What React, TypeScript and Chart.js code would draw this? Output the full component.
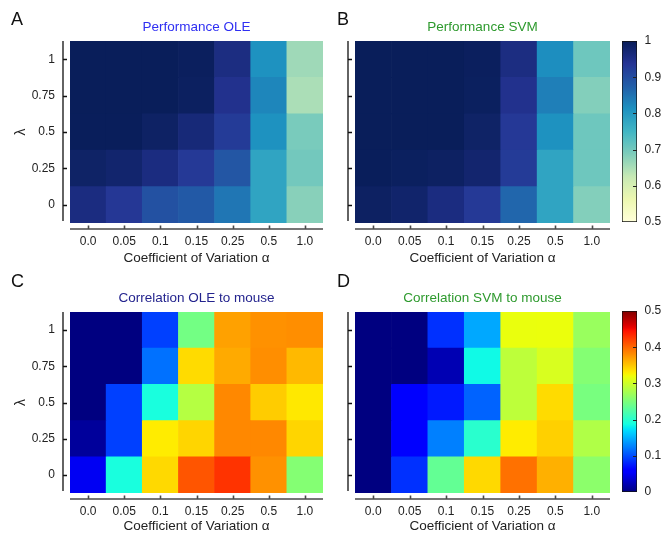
import React, { useEffect, useRef } from 'react';
import { Chart, registerables } from 'chart.js';
Chart.register(...registerables);

// ---------- data ----------
const alphaLabels = ['0.0', '0.05', '0.1', '0.15', '0.25', '0.5', '1.0'];
const lambdaLabels = ['0', '0.25', '0.5', '0.75', '1'];

// rows ordered from lambda = 0 (bottom) to lambda = 1 (top)
const perfOLE = [
  [0.958, 0.933, 0.895, 0.882, 0.845, 0.78, 0.68],
  [0.985, 0.978, 0.958, 0.93, 0.887, 0.78, 0.7],
  [0.997, 0.997, 0.987, 0.967, 0.927, 0.81, 0.694],
  [0.998, 0.998, 0.998, 0.992, 0.945, 0.826, 0.649],
  [0.998, 0.998, 0.998, 0.994, 0.957, 0.81, 0.66],
];
const perfSVM = [
  [0.99, 0.98, 0.958, 0.93, 0.865, 0.78, 0.684],
  [0.997, 0.993, 0.99, 0.977, 0.927, 0.78, 0.705],
  [0.998, 0.998, 0.998, 0.985, 0.932, 0.81, 0.705],
  [0.998, 0.998, 0.998, 0.993, 0.945, 0.834, 0.684],
  [0.998, 0.998, 0.998, 0.994, 0.957, 0.816, 0.705],
];
const corrOLE = [
  [0.05, 0.19, 0.34, 0.41, 0.428, 0.378, 0.255],
  [0.012, 0.094, 0.33, 0.342, 0.383, 0.383, 0.342],
  [0.0, 0.094, 0.19, 0.285, 0.383, 0.347, 0.332],
  [0.0, 0.0, 0.118, 0.339, 0.365, 0.38, 0.357],
  [0.0, 0.0, 0.094, 0.245, 0.37, 0.378, 0.38],
];
const corrSVM = [
  [0.0, 0.086, 0.235, 0.34, 0.395, 0.362, 0.26],
  [0.0, 0.059, 0.125, 0.2, 0.33, 0.345, 0.282],
  [0.0, 0.059, 0.075, 0.111, 0.29, 0.339, 0.248],
  [0.0, 0.0, 0.022, 0.185, 0.29, 0.306, 0.255],
  [0.0, 0.0, 0.086, 0.145, 0.317, 0.318, 0.268],
];

const perfTicks = [0.5, 0.6, 0.7, 0.8, 0.9, 1];
const perfTickLabels = ['0.5', '0.6', '0.7', '0.8', '0.9', '1'];
const corrTicks = [0, 0.1, 0.2, 0.3, 0.4, 0.5];
const corrTickLabels = ['0', '0.1', '0.2', '0.3', '0.4', '0.5'];

// ---------- colormaps ----------
const FONT = '"Liberation Sans", Arial, Helvetica, sans-serif';
const ylgnbuStops = ['#ffffd9', '#edf8b1', '#c7e9b4', '#7fcdbb', '#41b6c4', '#1d91c0', '#225ea8', '#253494', '#081d58'];
const hexToRgb = (h: string) => [parseInt(h.slice(1, 3), 16), parseInt(h.slice(3, 5), 16), parseInt(h.slice(5, 7), 16)];
const ylgnbuRgb = ylgnbuStops.map(hexToRgb);
const clamp01 = (t: number) => Math.max(0, Math.min(1, t));
function ylgnbu(t: number) {
  t = clamp01(t);
  const n = ylgnbuRgb.length - 1;
  const i = Math.min(n - 1, Math.floor(t * n));
  const f = t * n - i;
  const a = ylgnbuRgb[i], b = ylgnbuRgb[i + 1];
  return `rgb(${Math.round(a[0] + (b[0] - a[0]) * f)},${Math.round(a[1] + (b[1] - a[1]) * f)},${Math.round(a[2] + (b[2] - a[2]) * f)})`;
}
const jetR = [[0, 0], [0.35, 0], [0.66, 1], [0.89, 1], [1, 0.5]];
const jetG = [[0, 0], [0.125, 0], [0.375, 1], [0.64, 1], [0.91, 0], [1, 0]];
const jetB = [[0, 0.5], [0.11, 1], [0.34, 1], [0.65, 0], [1, 0]];
function seg(s: number[][], t: number) {
  for (let i = 1; i < s.length; i++) {
    if (t <= s[i][0]) {
      const [x0, y0] = s[i - 1], [x1, y1] = s[i];
      return y0 + (y1 - y0) * (t - x0) / (x1 - x0);
    }
  }
  return s[s.length - 1][1];
}
function jet(t: number) {
  t = clamp01(t);
  return `rgb(${Math.round(seg(jetR, t) * 255)},${Math.round(seg(jetG, t) * 255)},${Math.round(seg(jetB, t) * 255)})`;
}
const perfCmap = (v: number) => ylgnbu((v - 0.5) / 0.5);
const corrCmap = (v: number) => jet(v / 0.5);

const W = 665, H = 535;

type Panel = {
  values: number[][];
  cmap: (v: number) => string;
  left: number; right: number; top: number; bottom: number;
  showY: boolean;
  title: string; titleColor: string;
  letter: string; letterX: number; letterY: number;
  xHeight: number;
};

function heatmapConfig(p: Panel): any {
  const yWidth = p.showY ? 70 : 15;
  const datasets = p.values.map((row, r) => ({
    data: row.map(() => [r - 0.5, r + 0.5]),
    backgroundColor: row.map((v) => p.cmap(v)),
    borderWidth: 0,
    barPercentage: 1,
    categoryPercentage: 1,
    grouped: false,
  }));
  const plugin = {
    id: 'offsetAxes',
    afterDraw(chart: any) {
      const { ctx, chartArea: a, scales } = chart;
      const x = scales.x, y = scales.y;
      ctx.save();
      const yLine = a.bottom + 6;
      ctx.strokeStyle = '#4a4a4a';
      ctx.lineWidth = 1.6;
      ctx.beginPath();
      ctx.moveTo(a.left, yLine);
      ctx.lineTo(a.right, yLine);
      alphaLabels.forEach((_, i) => {
        const px = Math.round(x.getPixelForValue(i)) + 0.5;
        ctx.moveTo(px, yLine);
        ctx.lineTo(px, yLine - 3.5);
      });
      ctx.stroke();
      const xLine = a.left - 7;
      ctx.strokeStyle = '#111';
      ctx.lineWidth = 1.3;
      ctx.beginPath();
      ctx.moveTo(xLine, a.top);
      ctx.lineTo(xLine, a.bottom - 2);
      lambdaLabels.forEach((_, i) => {
        const py = Math.round(y.getPixelForValue(i)) + 0.5;
        ctx.moveTo(xLine, py);
        ctx.lineTo(xLine + 4, py);
      });
      ctx.stroke();
      ctx.fillStyle = p.titleColor;
      ctx.font = `13.5px ${FONT}`;
      ctx.textAlign = 'center';
      ctx.textBaseline = 'middle';
      ctx.fillText(p.title, (a.left + a.right) / 2, a.top - 14);
      ctx.fillStyle = '#111';
      ctx.font = `18px ${FONT}`;
      ctx.textAlign = 'left';
      ctx.textBaseline = 'alphabetic';
      ctx.fillText(p.letter, p.letterX, p.letterY);
      ctx.restore();
    },
  };
  return {
    type: 'bar',
    data: { labels: alphaLabels, datasets },
    plugins: [plugin],
    options: {
      responsive: false,
      animation: false,
      events: [],
      layout: {
        padding: { left: p.left - yWidth, right: W - p.right, top: p.top, bottom: H - p.bottom - p.xHeight },
      },
      plugins: { legend: { display: false }, tooltip: { enabled: false }, title: { display: false } },
      scales: {
        x: {
          type: 'category',
          offset: true,
          grid: { display: false, drawTicks: false },
          border: { display: false },
          ticks: { color: '#222', font: { size: 12, family: FONT }, padding: 11.3, maxRotation: 0, autoSkip: false },
          title: { display: true, text: 'Coefficient of Variation α', color: '#222', font: { size: 13.5, family: FONT }, padding: { top: 0, bottom: 0 } },
          afterFit: (s: any) => { s.height = p.xHeight; },
        },
        y: {
          type: 'linear',
          min: -0.5,
          max: 4.5,
          grid: { display: false, drawTicks: false },
          border: { display: false },
          afterBuildTicks: (s: any) => { s.ticks = lambdaLabels.map((_, i) => ({ value: i })); },
          ticks: {
            display: p.showY,
            color: '#222',
            font: { size: 12, family: FONT },
            padding: 15,
            callback: (_v: any, i: number) => lambdaLabels[i],
          },
          title: { display: p.showY, text: 'λ', color: '#222', font: { size: 14, family: FONT }, padding: { top: 13, bottom: 0 } },
          afterFit: (s: any) => { s.width = yWidth; },
        },
      },
    },
  };
}

function colorbarConfig(min: number, max: number, cmap: (v: number) => string, ticks: number[], labels: string[], top: number, bottom: number): any {
  const left = 622, right = 637, axisW = 28;
  const plugin = {
    id: 'cbTicks',
    afterDraw(chart: any) {
      const { ctx, chartArea: a, scales } = chart;
      ctx.save();
      ctx.strokeStyle = '#222';
      ctx.lineWidth = 1;
      ctx.beginPath();
      ticks.forEach((t) => {
        if (t === min || t === max) return;
        const py = Math.round(scales.y.getPixelForValue(t)) + 0.5;
        ctx.moveTo(a.right - 4, py);
        ctx.lineTo(a.right, py);
      });
      ctx.stroke();
      ctx.restore();
    },
  };
  return {
    type: 'bar',
    data: {
      labels: [''],
      datasets: [{
        data: [[min, max]],
        backgroundColor: (c: any) => {
          const chart = c.chart;
          const a = chart.chartArea;
          if (!a) return 'rgba(0,0,0,0)';
          const g = chart.ctx.createLinearGradient(0, a.bottom, 0, a.top);
          const N = 64;
          for (let k = 0; k <= N; k++) g.addColorStop(k / N, cmap(min + (max - min) * k / N));
          return g;
        },
        borderColor: '#111',
        borderWidth: 1,
        borderSkipped: false,
        barPercentage: 1,
        categoryPercentage: 1,
      }],
    },
    plugins: [plugin],
    options: {
      responsive: false,
      animation: false,
      events: [],
      layout: { padding: { left, right: W - right - axisW, top, bottom: H - bottom } },
      plugins: { legend: { display: false }, tooltip: { enabled: false } },
      scales: {
        x: { display: false },
        y: {
          position: 'right',
          min,
          max,
          grid: { display: false, drawTicks: false },
          border: { display: false },
          afterBuildTicks: (s: any) => { s.ticks = ticks.map((v) => ({ value: v })); },
          ticks: { color: '#222', font: { size: 12, family: FONT }, padding: 7.5, callback: (_v: any, i: number) => labels[i] },
          afterFit: (s: any) => { s.width = axisW; },
        },
      },
    },
  };
}

const panels: Panel[] = [
  { values: perfOLE, cmap: perfCmap, left: 70, right: 323, top: 41, bottom: 223, showY: true, title: 'Performance OLE', titleColor: '#2f2ff2', letter: 'A', letterX: 11, letterY: 25, xHeight: 43 },
  { values: perfSVM, cmap: perfCmap, left: 355, right: 610, top: 41, bottom: 223, showY: false, title: 'Performance SVM', titleColor: '#2e9a2e', letter: 'B', letterX: 337, letterY: 25, xHeight: 43 },
  { values: corrOLE, cmap: corrCmap, left: 70, right: 323, top: 312, bottom: 493, showY: true, title: 'Correlation OLE to mouse', titleColor: '#24248e', letter: 'C', letterX: 11, letterY: 287, xHeight: 41 },
  { values: corrSVM, cmap: corrCmap, left: 355, right: 610, top: 312, bottom: 493, showY: false, title: 'Correlation SVM to mouse', titleColor: '#2e9a2e', letter: 'D', letterX: 337, letterY: 287, xHeight: 41 },
];

export default function App() {
  const refs = [useRef<HTMLCanvasElement>(null), useRef<HTMLCanvasElement>(null), useRef<HTMLCanvasElement>(null), useRef<HTMLCanvasElement>(null), useRef<HTMLCanvasElement>(null), useRef<HTMLCanvasElement>(null)];
  useEffect(() => {
    const configs = [
      ...panels.map(heatmapConfig),
      colorbarConfig(0.5, 1, perfCmap, perfTicks, perfTickLabels, 41, 222),
      colorbarConfig(0, 0.5, corrCmap, corrTicks, corrTickLabels, 311, 492),
    ];
    const charts = configs.map((cfg, i) => new Chart(refs[i].current as HTMLCanvasElement, cfg));
    return () => charts.forEach((c) => c.destroy());
  }, []);
  return (
    <div style={{ position: 'absolute', left: 0, top: 0, width: W, height: H, background: '#fff' }}>
      {refs.map((r, i) => (
        <canvas key={i} ref={r} width={W} height={H} style={{ position: 'absolute', left: 0, top: 0, width: W, height: H }} />
      ))}
    </div>
  );
}
